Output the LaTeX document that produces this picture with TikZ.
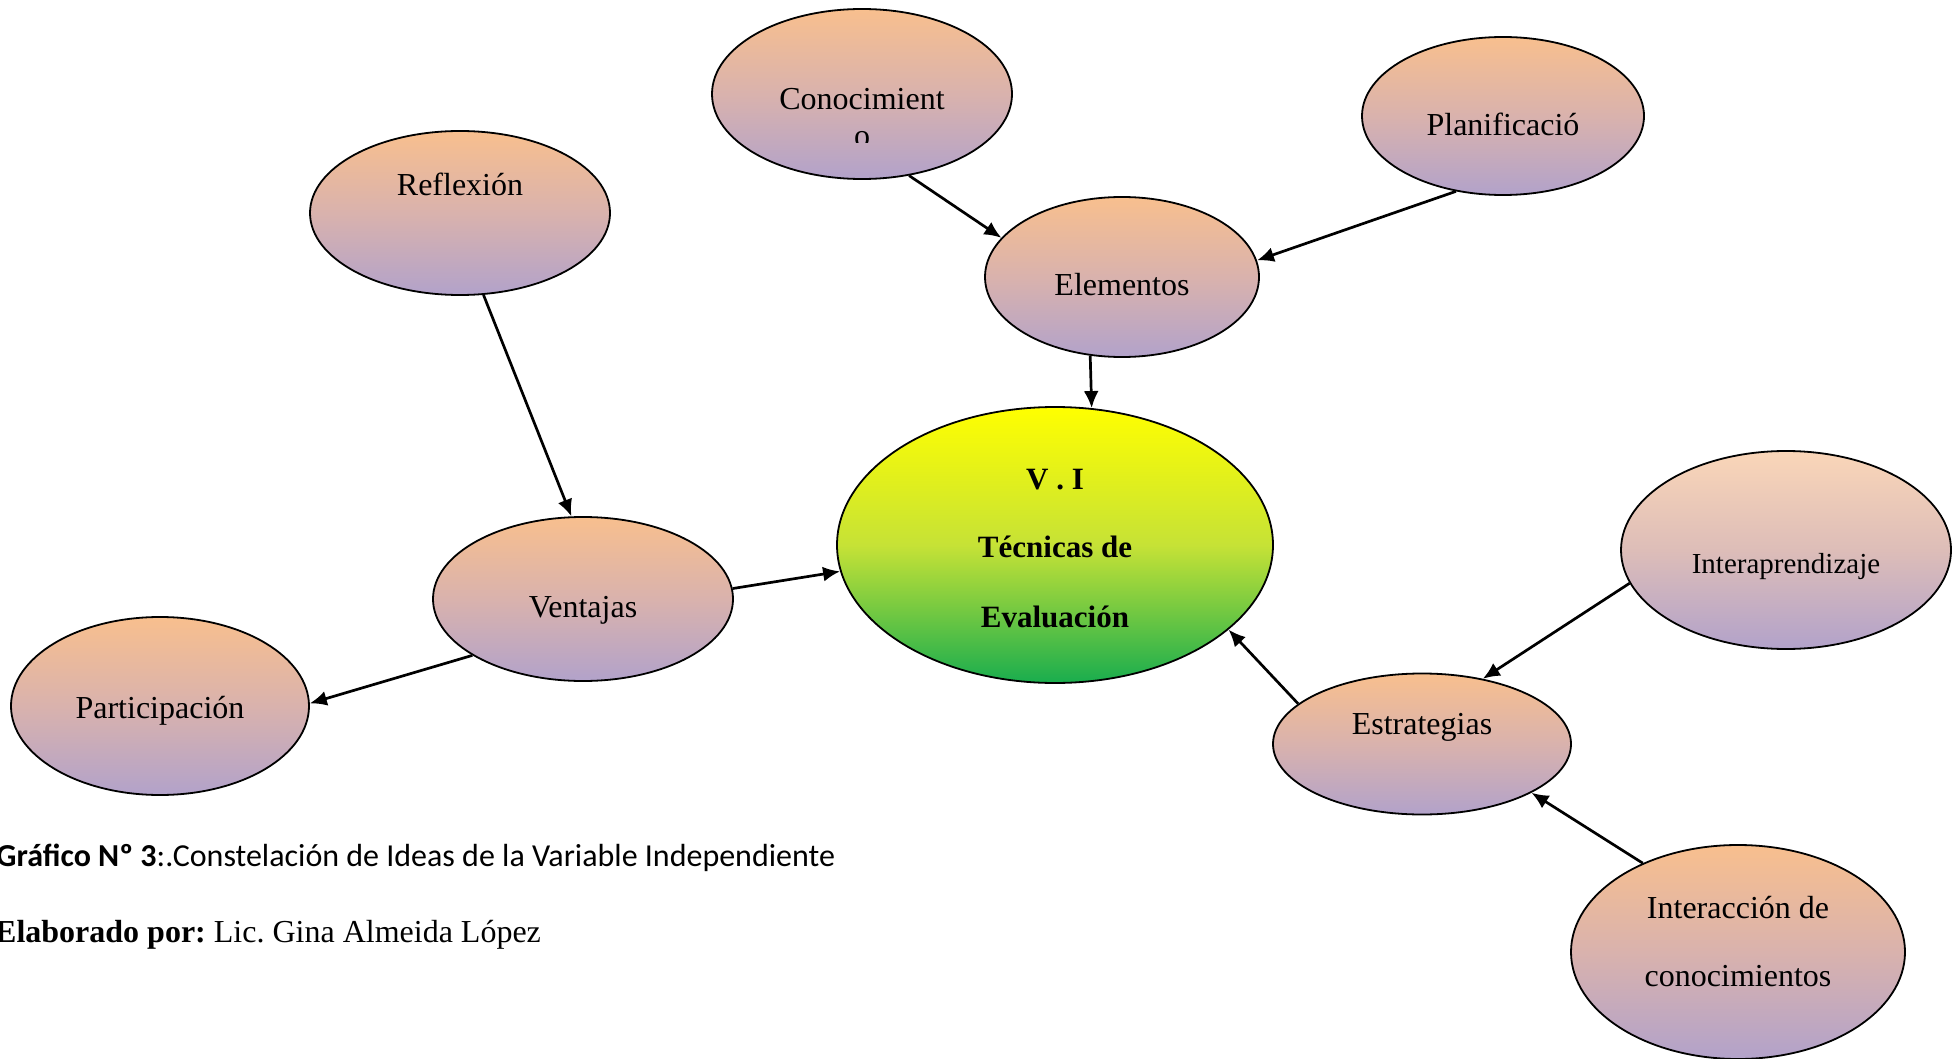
\documentclass[tikz,border=0pt]{standalone}
\usepackage{fontspec}
\setmainfont{Liberation Serif}
\newfontfamily\calib{Carlito}
\usetikzlibrary{shapes.geometric,arrows.meta}
\definecolor{peach}{HTML}{F8BF8E}
\definecolor{peachlt}{HTML}{FAD6B8}
\definecolor{lav}{HTML}{B2A2CA}
\definecolor{midp}{HTML}{D9B2AD}
\definecolor{midplt}{HTML}{DDBDB8}
\definecolor{ylw}{HTML}{FFFF00}
\definecolor{grn}{HTML}{19AD4E}
\definecolor{ygrn}{HTML}{C6E236}
\frenchspacing
\begin{document}
\begin{tikzpicture}[x=1pt,y=-1pt,
  bub/.style={ellipse,draw=black,line width=1.8pt,inner sep=0pt,
    top color=peach,bottom color=lav,middle color=midp},
  bublt/.style={bub,top color=peachlt,bottom color=lav,middle color=midplt},
  central/.style={ellipse,draw=black,line width=1.8pt,inner sep=0pt,
    top color=ylw,bottom color=grn,middle color=ygrn},
  txt/.style={anchor=base,inner sep=0pt,font=\fontsize{32}{38}\selectfont},
  btxt/.style={txt,font=\fontsize{31}{37}\selectfont\bfseries},
  arr/.style={line width=2.7pt,-{Latex[length=17pt,width=15pt]}}]
\useasboundingbox (0,0) rectangle (1957,1059);
\fill[white] (0,0) rectangle (1957,1059);

% ellipses
\node[bub,minimum width=300pt,minimum height=170pt] (cono) at (862,94) {};
\node[bub,minimum width=282pt,minimum height=158pt] (plan) at (1503,116) {};
\node[bub,minimum width=300pt,minimum height=164pt] (refl) at (460,213) {};
\node[bub,minimum width=274pt,minimum height=160pt] (elem) at (1122,277) {};
\node[central,minimum width=436pt,minimum height=276pt] (vi) at (1055,545) {};
\node[bublt,minimum width=330pt,minimum height=198pt] (inter) at (1786,550) {};
\node[bub,minimum width=300pt,minimum height=164pt] (vent) at (583,599) {};
\node[bub,minimum width=298pt,minimum height=178pt] (part) at (160,706) {};
\node[bub,minimum width=298pt,minimum height=141pt] (estr) at (1422,744) {};
\node[bub,minimum width=334pt,minimum height=214pt] (icon) at (1738,952) {};

% texts
\node[txt] (conot) at (862,110) {Conocimient};
\begin{scope}
\clip (700,118) rectangle (1020,143);
\node[txt] (conoo) at (862,147) {o};
\end{scope}
\node[txt] (plant) at (1503,136) {Planificació};
\node[txt] (reflt) at (460,196) {Reflexión};
\node[txt] (elemt) at (1122,296) {Elementos};
\node[btxt] (vi1) at (1055,489) {V . I};
\node[btxt] (vi2) at (1055,557) {Técnicas de};
\node[btxt] (vi3) at (1055,627) {Evaluación};
\node[txt,font=\fontsize{29}{35}\selectfont] (intert) at (1786,573) {Interaprendizaje};
\node[txt] (ventt) at (583,617) {Ventajas};
\node[txt] (partt) at (160,718) {Participación};
\node[txt] (estrt) at (1422,734) {Estrategias};
\node[txt] (icon1) at (1738,918) {Interacción de};
\node[txt] (icon2) at (1738,986) {conocimientos};

% arrows
\draw[arr] (cono.-60.8) -- (elem.162.9);
\draw[arr] (plan.238.7) -- (elem.7.7);
\draw[arr] (elem.248.7) -- (vi.75.7);
\draw[arr] (refl.-74.8) -- (vent.98.6);
\draw[arr] (vent.4.6) -- (vi.187.8);
\draw[arr] (vent.207.7) -- (part.1.1);
\draw[arr] (inter.192.2) -- (estr.47.9);
\draw[arr] (estr.162.2) -- (vi.-26.2);
\draw[arr] (icon.137.7) -- (estr.-24);

% caption
\node[anchor=base west,inner sep=0pt,font=\calib\fontsize{32}{38}\selectfont] (cap1) at (-4,866) {\textbf{Gráfico Nº 3}:.Constelación de Ideas de la Variable Independiente};
\node[anchor=base west,inner sep=0pt,font=\fontsize{32}{38}\selectfont] (cap2) at (-5,942) {\textbf{Elaborado por:} Lic. Gina Almeida López};
\end{tikzpicture}
\end{document}
